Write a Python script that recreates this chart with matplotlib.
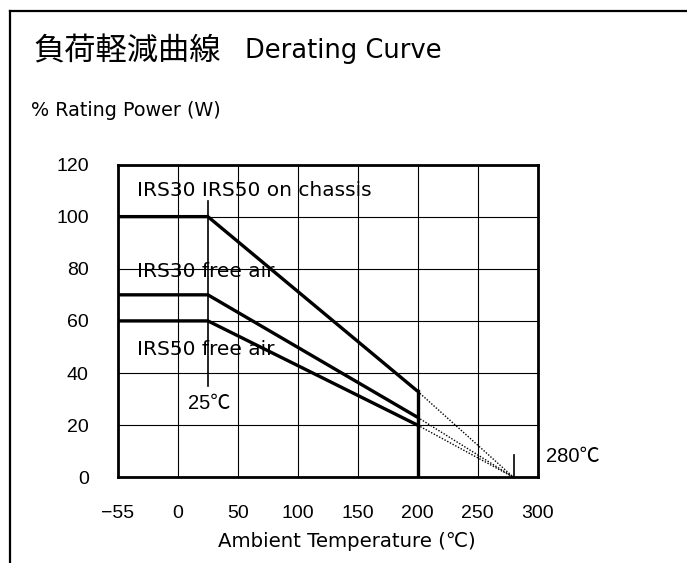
import matplotlib
matplotlib.use("Agg")
import matplotlib.pyplot as plt

plt.rcParams['font.family'] = ['DejaVu Sans', 'Noto Sans CJK JP']

# data
temp_points = [-50, 25, 200]
chassis = [100, 100, 33]
free30 = [70, 70, 23]
free50 = [60, 60, 20]
cut_temp = 200
zero_temp = 280
knee_temp = 25

xticks = [-50, 0, 50, 100, 150, 200, 250, 300]
xtick_labels = ['−55', '0', '50', '100', '150', '200', '250', '300']
yticks = [0, 20, 40, 60, 80, 100, 120]

W, H = 687, 563
fig = plt.figure(figsize=(W / 100, H / 100), dpi=100)

# outer frame (top and left only)
fig.add_artist(plt.Line2D([10 / W, 10 / W], [0, 1 - 11 / H], color='black', lw=1.6))
fig.add_artist(plt.Line2D([10 / W, 1], [1 - 11 / H, 1 - 11 / H], color='black', lw=1.6))

fig.text(33 / W, 1 - 51 / H, '負荷軽減曲線', fontsize=22.5, va='center', ha='left',
         family=['Noto Sans CJK JP'])
fig.text(245 / W, 1 - 51 / H, 'Derating Curve', fontsize=18.5, va='center', ha='left')
fig.text(31 / W, 1 - 110 / H, '% Rating Power (W)', fontsize=13.8, va='center', ha='left')

ax = fig.add_axes([118 / W, (H - 477.3) / H, 419.5 / W, 312.8 / H])
ax.set_xlim(-50, 300)
ax.set_ylim(0, 120)
ax.set_xticks(xticks)
ax.set_xticklabels(xtick_labels)
ax.set_yticks(yticks)
ax.tick_params(length=0, labelsize=14)
ax.tick_params(axis='y', pad=21)
ax.tick_params(axis='x', pad=20)
for lab in ax.get_xticklabels() + ax.get_yticklabels():
    lab.set_family(['Liberation Sans', 'DejaVu Sans'])
ax.grid(True, color='black', lw=0.8)
for s in ax.spines.values():
    s.set_linewidth(2.0)

for series in (chassis, free30, free50):
    ax.plot(temp_points, series, color='black', lw=2.4, solid_capstyle='butt', zorder=3)
    ax.plot([cut_temp, zero_temp], [series[-1], 0], color='black', lw=1.0, ls=(0, (1, 1.2)), zorder=3)

ax.plot([cut_temp, cut_temp], [0, chassis[-1]], color='black', lw=2.4, zorder=3)
ax.plot([knee_temp, knee_temp], [35, 106], color='black', lw=1.2, zorder=3)
ax.plot([zero_temp, zero_temp], [0, 8.5], color='black', lw=1.2, zorder=3)

ax.text(-34, 110, 'IRS30 IRS50 on chassis', fontsize=14.5, va='center', ha='left')
ax.text(-34, 79, 'IRS30 free air', fontsize=14.5, va='center', ha='left')
ax.text(-34, 49, 'IRS50 free air', fontsize=14.5, va='center', ha='left')
deg_fonts = ['Liberation Sans', 'Noto Sans CJK JP']
ax.text(knee_temp + 1, 28.5, '25℃', fontsize=14.5, va='center', ha='center', family=deg_fonts)
ax.text(307, 8, '280℃', fontsize=14.5, va='center', ha='left', clip_on=False, family=deg_fonts)

fig.text(218 / W, 1 - 541.7 / H, 'Ambient Temperature (℃)', fontsize=14.2, va='center', ha='left')

fig.savefig('out.png', dpi=100)
